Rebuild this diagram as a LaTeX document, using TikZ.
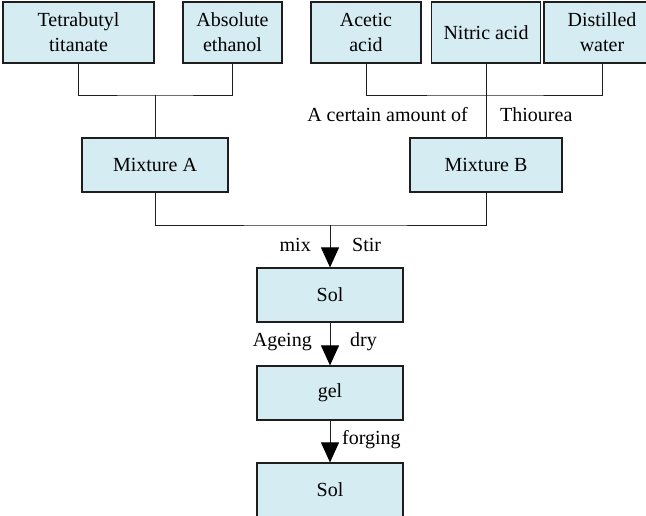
\documentclass[tikz,border=0pt]{standalone}
\usepackage{fontspec}
\setmainfont{Liberation Serif}
\usetikzlibrary{arrows.meta}
\definecolor{boxfill}{RGB}{213,236,243}
\definecolor{edge}{RGB}{30,30,30}
\begin{document}
\begin{tikzpicture}[x=1pt,y=-1pt,
  box/.style={draw=edge,line width=1.2pt,fill=boxfill,rectangle,inner sep=0pt,
    align=center,font=\fontsize{20}{25}\selectfont},
  lbl/.style={inner sep=0pt,font=\fontsize{20}{24}\selectfont},
  conn/.style={draw=edge,line width=1pt},
  arr/.style={conn,-{Triangle[width=18pt,length=20pt,color=black]}}]
\useasboundingbox (0,0) rectangle (646,515);
\begin{scope}
\clip (0,0) rectangle (646,515);
% top row
\node[box,minimum width=151pt,minimum height=61pt] (tt) at (78.5,32.5) {Tetrabutyl\\titanate};
\node[box,minimum width=99pt,minimum height=61pt] (ae) at (232.5,32.5) {Absolute\\ethanol};
\node[box,minimum width=110pt,minimum height=61pt] (aa) at (366,32.5) {Acetic\\acid};
\node[box,minimum width=109pt,minimum height=61pt] (na) at (486,32.5) {Nitric acid};
\node[box,minimum width=116pt,minimum height=61pt] (dw) at (602,32.5) {Distilled\\water};
% mixtures
\node[box,minimum width=146pt,minimum height=54pt] (ma) at (155,165) {Mixture A};
\node[box,minimum width=152pt,minimum height=54pt] (mb) at (486,165) {Mixture B};
% chain
\node[box,minimum width=146pt,minimum height=54pt] (s1) at (330,295) {Sol};
\node[box,minimum width=146pt,minimum height=54pt] (gel) at (330,393) {gel};
\node[box,minimum width=146pt,minimum height=54pt] (s2) at (330,490) {Sol};
% junctions
\coordinate (j1) at (155,95);
\coordinate (j2) at (486,95);
\coordinate (j3) at (330,225);
\draw[conn] (tt.south) |- (j1) -| (ae.south);
\draw[conn] (j1) -- (ma.north);
\draw[conn] (aa.south) |- (j2) -| (dw.south);
\draw[conn] (na.south) -- (mb.north);
\draw[conn] (ma.south) |- (j3) -| (mb.south);
\draw[arr] (j3) -- (s1.north);
\draw[arr] (s1.south) -- (gel.north);
\draw[arr] (gel.south) -- (s2.north);
% labels
\node[lbl,anchor=east] (l1) at (468,115) {A certain amount of};
\node[lbl,anchor=west] (l2) at (500,115) {Thiourea};
\node[lbl,anchor=east] (l3) at (311,245) {mix};
\node[lbl,anchor=west] (l4) at (352,245) {Stir};
\node[lbl,anchor=east] (l5) at (312,342) {Ageing};
\node[lbl,anchor=west] (l6) at (350,342) {dry};
\node[lbl,anchor=west] (l7) at (342,440) {forging};
\end{scope}
\end{tikzpicture}
\end{document}
